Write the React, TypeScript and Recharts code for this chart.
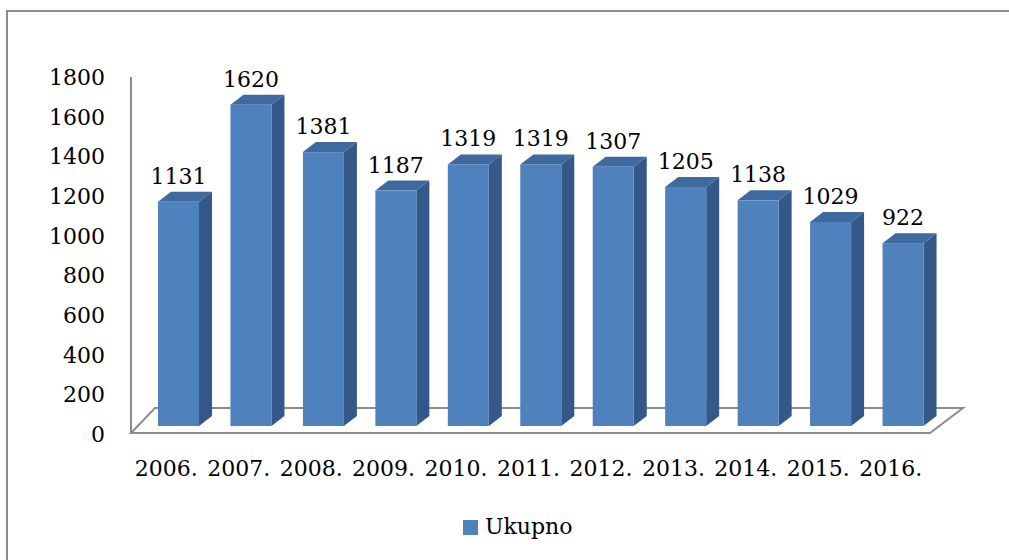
import React from "react";
import { BarChart, Bar, XAxis, YAxis, LabelList, Legend, ReferenceArea } from "recharts";

const years = ["2006.", "2007.", "2008.", "2009.", "2010.", "2011.", "2012.", "2013.", "2014.", "2015.", "2016."];
const values = [1131, 1620, 1381, 1187, 1319, 1319, 1307, 1205, 1138, 1029, 922];
const yTicks = [0, 200, 400, 600, 800, 1000, 1200, 1400, 1600, 1800];
const seriesName = "Ukupno";

const data = years.map((year, i) => ({ year, value: values[i] }));

const FONT = "'DejaVu Serif', serif";
const FRONT = "#4F81BD";
const SIDE = "#34588A";
const TOP = "#3F6A9F";
const GRAY = "#8c8c8c";
const LIFT = 8;
const DX = 13;
const DY = 10;

const Bar3D = (props: any) => {
  const { x, y, width, height } = props;
  if (width == null || height == null) return null;
  const top = y - LIFT;
  const bottom = y + height - LIFT;
  const r = x + width;
  return (
    <g>
      <path d={`M${r},${top} L${r + DX},${top - DY} L${r + DX},${bottom - DY} L${r},${bottom} Z`} fill={SIDE} />
      <path d={`M${x},${top} L${x + DX},${top - DY} L${r + DX},${top - DY} L${r},${top} Z`} fill={TOP} />
      <rect x={x} y={top} width={width} height={height} fill={FRONT} />
    </g>
  );
};

const Floor = (props: any) => {
  const { x, y, width, height } = props;
  const b = y + height;
  const pts = [
    [x - 11, b - 1],
    [x + width - 9, b - 1],
    [x + width + 24, b - 26],
    [x + 13, b - 26],
  ]
    .map((p) => p.join(","))
    .join(" ");
  return <polygon points={pts} fill="#ffffff" stroke={GRAY} strokeWidth={2} />;
};

const XTick = (props: any) => {
  const { x, y, payload } = props;
  return (
    <text x={x - 12} y={y + 42} textAnchor="middle" fontFamily={FONT} fontSize={22} fill="#000">
      {payload.value}
    </text>
  );
};

const YTick = (props: any) => {
  const { x, y, payload } = props;
  return (
    <text x={x - 26} y={y + 8} textAnchor="end" fontFamily={FONT} fontSize={22} fill="#000">
      {payload.value}
    </text>
  );
};

const ValueLabel = (props: any) => {
  const { x, y, width, value } = props;
  return (
    <text x={x + width / 2} y={y - LIFT - 18} textAnchor="middle" fontFamily={FONT} fontSize={22} fill="#000">
      {value}
    </text>
  );
};

const LegendContent = () => (
  <div style={{ display: "flex", alignItems: "center", fontFamily: FONT, fontSize: 22, color: "#000", lineHeight: "30px" }}>
    <span style={{ display: "inline-block", width: 15, height: 15, background: FRONT, marginRight: 7 }} />
    <span>{seriesName}</span>
  </div>
);

export default function App() {
  return (
    <div style={{ position: "fixed", left: 0, top: 0, width: 1009, height: 560, overflow: "hidden", background: "#fff" }}>
      <div
        style={{
          position: "absolute",
          left: 6,
          top: 10,
          width: 1100,
          height: 700,
          border: `2px solid ${GRAY}`,
        }}
      />
      <div style={{ position: "absolute", left: 0, top: 0 }}>
        <BarChart
          width={1009}
          height={560}
          data={data}
          margin={{ top: 77, right: 70, left: 0, bottom: 96 }}
          barSize={41}
        >
          <XAxis
            dataKey="year"
            height={30}
            axisLine={false}
            tickLine={false}
            tickSize={0}
            tickMargin={0}
            padding={{ left: 11, right: 0 }}
            tick={<XTick />}
            interval={0}
          />
          <YAxis
            width={131}
            domain={[0, 1800]}
            ticks={yTicks}
            interval={0}
            tickLine={false}
            tickSize={0}
            tickMargin={0}
            axisLine={{ stroke: GRAY, strokeWidth: 2 }}
            tick={<YTick />}
          />
          <ReferenceArea y1={0} y2={200} ifOverflow="visible" shape={<Floor />} zIndex={-10} />
          <Legend
            layout="horizontal"
            verticalAlign="middle"
            align="center"
            content={<LegendContent />}
            wrapperStyle={{ position: "absolute", left: 463, top: 512, width: "auto" }}
          />
          <Bar dataKey="value" name={seriesName} fill={FRONT} shape={<Bar3D />} isAnimationActive={false}>
            <LabelList dataKey="value" content={<ValueLabel />} />
          </Bar>
        </BarChart>
      </div>
    </div>
  );
}
